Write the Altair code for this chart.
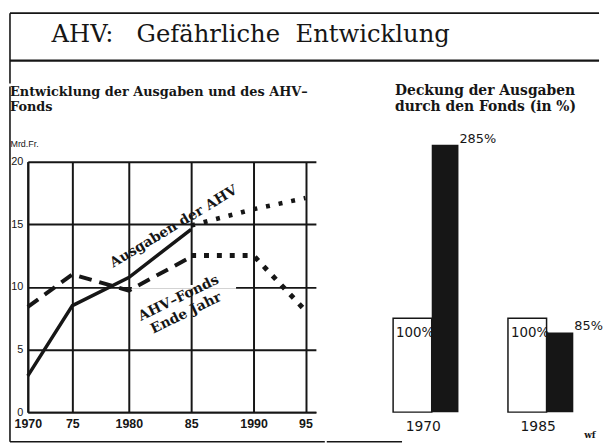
import altair as alt
import pandas as pd

# ---------------- data ----------------
main_title = "AHV:\u00a0\u00a0\u00a0Gefährliche\u00a0\u00a0Entwicklung"
left_title = ["Entwicklung der Ausgaben und des AHV–", "Fonds"]
right_title = ["Deckung der Ausgaben", "durch den Fonds (in %)"]
y_unit = "Mrd.Fr."
credit = "wf"

x_ticks = [1970, 1975, 1980, 1985, 1990, 1995]
x_tick_labels = ["1970", "75", "1980", "85", "1990", "95"]
y_ticks = [0, 5, 10, 15, 20]

ausg_years = [1970, 1975, 1980, 1985]
ausg_values = [2.9, 8.5, 10.75, 14.6]
ausg_proj_years = [1985, 1990, 1995]
ausg_proj_values = [14.9, 16.2, 17.1]

fonds_years = [1970, 1975, 1980, 1985]
fonds_values = [8.4, 11.0, 9.7, 12.4]
fonds_proj_years = [1985, 1990, 1995]
fonds_proj_values = [12.5, 12.5, 8.1]

label_ausg = "Ausgaben der AHV"
label_fonds = ["AHV–Fonds", "Ende Jahr"]

bar_years = ["1970", "1985"]
bar_ausgaben = [100, 100]
bar_fonds = [285, 85]
bar_ausg_labels = ["100%", "100%"]
bar_fonds_labels = ["285%", "85%"]

INK = "#161616"
SERIF = "DejaVu Serif"
SANS = "DejaVu Sans"

one = alt.Data(values=[{"t": ""}])

def frame_rule(x, x2, y, y2, w=1.6):
    return alt.Chart(one).mark_rule(color=INK, strokeWidth=w).encode(
        x=alt.value(x), x2=alt.value(x2), y=alt.value(y), y2=alt.value(y2)
    )

def block_text(lines, x, y, size, line_height, **kw):
    return alt.Chart(alt.Data(values=[{"t": lines}])).mark_text(
        align="left", baseline="top", font=SERIF, fontWeight="bold",
        fontSize=size, lineHeight=line_height, color=INK, **kw
    ).encode(text="t:N", x=alt.value(x), y=alt.value(y))

# ---------------- header ----------------
header_text = alt.Chart(alt.Data(values=[{"t": main_title}])).mark_text(
    align="left", baseline="middle", font=SERIF, fontSize=24.5, color=INK
).encode(text="t:N", x=alt.value(24), y=alt.value(22))

header = alt.layer(
    frame_rule(-18, 577, 0, 0, 1.6),
    frame_rule(-18, 577, 48, 48, 2.2),
    frame_rule(-18, -18, 0, 71, 1.6),
    header_text,
).properties(width=577, height=48)

# ---------------- left: line chart ----------------
label_map = "{" + ",".join(f"'{v}':'{l}'" for v, l in zip(x_ticks, x_tick_labels)) + "}"
x_range = [0, 45, 102, 165, 228, 291]

x_enc = alt.X(
    "year:Q",
    scale=alt.Scale(domain=x_ticks, range=x_range),
    axis=alt.Axis(
        values=x_ticks, labelExpr=f"{label_map}[datum.value]", title=None,
        grid=True, gridColor=INK, gridWidth=2, gridOpacity=1,
        domainColor=INK, domainWidth=2, ticks=False,
        labelFont="Liberation Sans", labelFontWeight="bold", labelFontSize=12.5,
        labelColor=INK, labelPadding=6, labelFlush=False,
    ),
)
y_enc = alt.Y(
    "value:Q",
    scale=alt.Scale(domain=[0, 20], nice=False),
    axis=alt.Axis(
        values=y_ticks, grid=True, gridColor=INK, gridWidth=2, gridOpacity=1,
        domainColor=INK, domainWidth=2, ticks=False,
        labelFont="Liberation Sans", labelFontSize=11, labelColor=INK, labelPadding=5,
        title=y_unit, titleAngle=0, titleX=-18, titleY=-18, titleAlign="left",
        titleBaseline="middle", titleFont="Liberation Sans", titleFontSize=9,
        titleFontWeight="normal", titleColor=INK,
    ),
)

def df(years, vals):
    return pd.DataFrame({"year": years, "value": vals})

# gap in the 10-gridline behind the fund label (as in the original print)
grid_gap = alt.Chart(one).mark_rule(color="white", strokeWidth=4).encode(
    x=alt.datum(1980.25), x2=alt.datum(1988.6), y=alt.datum(10)
)

ausg_line = alt.Chart(df(ausg_years, ausg_values)).mark_line(
    color=INK, strokeWidth=3.5
).encode(x=x_enc, y=y_enc)
ausg_proj = alt.Chart(df(ausg_proj_years, ausg_proj_values)).mark_line(
    color=INK, strokeWidth=4.5, strokeDash=[4, 9], strokeCap="butt"
).encode(x="year:Q", y="value:Q")
fonds_line = alt.Chart(df(fonds_years, fonds_values)).mark_line(
    color=INK, strokeWidth=4, strokeDash=[13, 8], strokeCap="butt"
).encode(x="year:Q", y="value:Q")
fonds_proj = alt.Chart(df(fonds_proj_years, fonds_proj_values)).mark_line(
    color=INK, strokeWidth=5, strokeDash=[5, 8], strokeCap="butt"
).encode(x="year:Q", y="value:Q")

txt_ausg = alt.Chart(alt.Data(values=[{"t": label_ausg}])).mark_text(
    font=SERIF, fontWeight="bold", fontSize=14, angle=329, color=INK,
    align="center", baseline="middle"
).encode(text="t:N", x=alt.datum(1983.6), y=alt.datum(14.8))

txt_fonds = alt.Chart(alt.Data(values=[{"t": label_fonds}])).mark_text(
    font=SERIF, fontWeight="bold", fontSize=14, angle=334, color=INK,
    align="center", baseline="middle", lineHeight=17
).encode(text="t:N", x=alt.datum(1984.0), y=alt.datum(9.1))

left = alt.layer(
    ausg_line, grid_gap, ausg_proj, fonds_line, fonds_proj, txt_ausg, txt_fonds,
    block_text(left_title, -18, -76, 13, 15),
    frame_rule(-18, -18, -76, 283, 1.6),
    frame_rule(-18, 300, 283, 283, 1.6),
).properties(width=291, height=253)

# ---------------- right: bar chart ----------------
bars_a = pd.DataFrame({"year": bar_years, "value": bar_ausgaben, "label": bar_ausg_labels})
bars_f = pd.DataFrame({"year": bar_years, "value": bar_fonds, "label": bar_fonds_labels})

bx = alt.X(
    "year:N", sort=bar_years,
    scale=alt.Scale(type="point", padding=0.362),
    axis=alt.Axis(
        title=None, domain=False, ticks=False, grid=False, labelAngle=0, labelOffset=-9,
        labelFont=SANS, labelFontSize=14, labelColor=INK, labelPadding=8,
    ),
)
by = alt.Y("value:Q", scale=alt.Scale(domain=[0, 267], nice=False), axis=None)

white_bars = alt.Chart(bars_a).mark_bar(
    width=39, xOffset=-19.5, fill="white", stroke=INK, strokeWidth=1.5
).encode(x=bx, y=by)
black_bars = alt.Chart(bars_f).mark_bar(width=27, xOffset=13.5, fill=INK).encode(
    x="year:N", y="value:Q"
)
white_txt = alt.Chart(bars_a).mark_text(
    align="left", baseline="middle", dx=-36, dy=15, font=SANS, fontSize=13.5, color=INK
).encode(x="year:N", y="value:Q", text="label:N")
black_txt = alt.Chart(bars_f).mark_text(
    align="left", baseline="middle", dx=28, dy=-6, font=SANS, fontSize=13, color=INK
).encode(x="year:N", y="value:Q", text="label:N")
credit_txt = alt.Chart(alt.Data(values=[{"t": credit}])).mark_text(
    align="left", baseline="middle", font=SERIF, fontSize=9, fontWeight="bold", color=INK
).encode(text="t:N", x=alt.value(196), y=alt.value(276))

right = alt.layer(
    white_bars, black_bars, white_txt, black_txt, credit_txt,
    block_text(right_title, 5, -78, 14, 16),
    frame_rule(-64, 12, 283, 283, 1.6),
).properties(width=200, height=253)

body = alt.hconcat(left, right, spacing=0)

chart = alt.concat(header, body, columns=1, spacing=0).properties(
    align="none",
    padding={"left": 0, "top": 2, "right": 0, "bottom": 0},
    background="white",
).configure_view(strokeWidth=0)

chart.save("out.html", embed_options={"renderer": "svg", "actions": False})
